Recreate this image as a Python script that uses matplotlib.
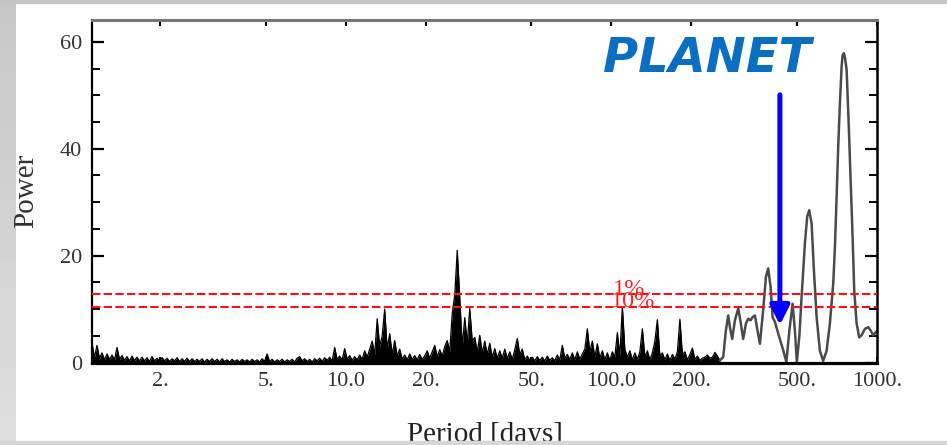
import numpy as np
import matplotlib
matplotlib.use("Agg")
import matplotlib.pyplot as plt
from matplotlib.ticker import FixedLocator, FixedFormatter, MultipleLocator, NullLocator
from matplotlib.patches import Rectangle

plt.rcParams['font.family'] = ['Liberation Serif', 'DejaVu Serif']

# short-period part of the periodogram (dense noise)
noise_power = [
    3.6, 1.0, 3.2, 0.8, 1.8, 0.5, 1.6, 0.6, 1.4, 0.5,
    2.8, 0.6, 1.3, 0.4, 1.1, 0.3, 1.2, 0.4, 1.0, 0.3,
    1.0, 0.3, 0.9, 0.2, 1.1, 0.3, 0.8, 0.2, 0.9, 0.3,
    0.8, 0.2, 0.7, 0.3, 0.9, 0.2, 0.7, 0.2, 0.8, 0.2,
    0.7, 0.2, 0.6, 0.2, 0.7, 0.1, 0.6, 0.2, 0.7, 0.2,
    0.6, 0.1, 0.7, 0.2, 0.5, 0.1, 0.6, 0.2, 0.5, 0.1,
    0.6, 0.2, 0.5, 0.1, 0.6, 0.2, 0.5, 0.1, 0.7, 0.2,
    1.6, 0.2, 0.6, 0.1, 0.5, 0.2, 0.6, 0.1, 0.5, 0.2,
    0.6, 0.1, 0.8, 1.1, 0.3, 0.7, 0.2, 0.6, 0.1, 0.7,
    0.3, 0.8, 0.2, 0.9, 0.4, 1.0, 0.3, 2.8, 0.6, 1.2,
    0.5, 2.6, 0.6, 1.3, 0.4, 1.1, 0.5, 1.4, 0.6, 2.2,
    1.0, 2.5, 4.0, 1.5, 8.2, 3.0, 5.0, 10.0, 2.5, 5.4,
    1.5, 4.1, 1.2, 2.5, 0.6, 1.4, 0.5, 1.6, 0.6, 1.3,
    0.5, 1.5, 0.6, 1.2, 2.2, 0.8, 2.0, 3.2, 1.0, 2.4,
    1.2, 3.0, 4.1, 2.0, 9.2, 12.6, 21.0, 12.2, 3.0, 8.4,
    3.5, 10.1, 4.0, 4.7, 2.0, 5.1, 1.8, 4.0, 1.5, 3.6,
    1.0, 2.6, 0.8, 2.2, 0.8, 2.5, 0.7, 2.0, 0.6, 2.4,
    4.5, 1.5, 2.5, 0.5, 1.2, 0.4, 1.0, 0.3, 1.1, 0.4,
    1.0, 0.3, 1.2, 0.4, 0.9, 0.3, 1.4, 0.5, 3.2, 0.8,
    1.5, 0.6, 1.8, 0.5, 2.0, 0.6, 1.6, 2.5, 6.3, 2.0,
    4.0, 1.0, 3.5, 0.8, 2.2, 0.5, 1.8, 0.4, 2.0, 1.0,
    5.6, 1.2, 10.5, 2.5, 1.0, 2.2, 0.5, 1.8, 0.6, 2.0,
    6.3, 1.0, 2.2, 0.5, 1.8, 4.0, 8.0, 1.2, 1.8, 0.5,
    1.6, 0.4, 1.5, 0.6, 2.0, 8.1, 1.5, 2.0, 0.5, 1.5,
    2.7, 0.6, 1.2, 0.4, 0.8, 1.0, 1.4, 0.8, 1.0, 1.9,
    1.2, 0.4,
]
noise_periods = np.geomspace(1.11, 256.3, len(noise_power))

# long-period part (smooth peaks)
long_periods = [256.3, 263.7, 269.9, 275.4, 279.5, 285.1, 291.9, 300.4, 306.6, 313.6,
                321.1, 327.5, 334.4, 340.3, 347.2, 354.0, 362.4, 372.9, 381.8, 389.4,
                397.7, 404.6, 412.8, 427.3, 442.4, 456.0, 468.0, 481.2, 490.8, 499.3,
                510.3, 520.2, 535.3, 546.1, 555.7, 567.4, 578.8, 592.5, 609.6, 627.3,
                646.1, 664.8, 684.3, 694.4, 704.7, 714.5, 725.1, 735.9, 742.0, 750.6,
                758.0, 768.5, 784.0, 795.7, 809.5, 820.8, 838.0, 857.2, 875.0, 900.4,
                926.5, 946.1, 967.5, 990.4, 1000.0]
long_power = [0.4, 1.0, 6.0, 8.8, 6.6, 4.4, 7.9, 10.1, 7.6, 4.4,
              7.3, 8.2, 7.9, 8.5, 8.8, 6.3, 3.5, 9.8, 16.0, 17.6,
              14.1, 8.5, 7.6, 5.0, 2.5, 0.1, 6.0, 11.0, 6.0, 0.1,
              5.0, 12.3, 22.3, 27.3, 28.5, 26.0, 17.3, 8.5, 2.2, 0.3,
              2.2, 7.3, 14.8, 21.6, 31.0, 40.4, 48.5, 55.4, 57.4, 57.9,
              57.0, 54.8, 43.5, 34.1, 23.5, 13.5, 7.3, 4.7, 5.1, 6.3,
              6.6, 6.0, 5.1, 5.7, 5.9]

fap_levels = [12.75, 10.35]   # 1% and 10% false alarm levels
fap_labels = ['1%', '10%']

x_ticks = [2, 5, 10, 20, 50, 100, 200, 500, 1000]
x_ticklabels = ['2.', '5.', '10.0', '20.', '50.', '100.0', '200.', '500.', '1000.']
y_ticks = [0, 20, 40, 60]

planet_period = 431
planet_from, planet_to = 50.1, 7.0

fig = plt.figure(figsize=(9.47, 4.45), dpi=100)
fig.patch.set_facecolor('white')

# grey frame of the slide
bg = fig.add_axes([0, 0, 16 / 947, 1])
bg.imshow(np.linspace(0.78, 0.87, 100).reshape(-1, 1), cmap='gray', vmin=0, vmax=1,
          aspect='auto', extent=[0, 1, 0, 1], origin='upper')
bg.axis('off')
fig.patches.append(Rectangle((0, 1 - 3 / 445), 1, 3 / 445, transform=fig.transFigure,
                             color='#c4c4c4', zorder=0))
fig.patches.append(Rectangle((0, 0), 1, 4 / 445, transform=fig.transFigure,
                             color='#d6d6d6', zorder=5))

ax = fig.add_axes([92 / 947, 82.5 / 445, 785 / 947, 342.5 / 445])
ax.set_xscale('log')

ax.fill_between(noise_periods, 0, noise_power, color='black', lw=0)
ax.plot(noise_periods, noise_power, color='black', lw=0.9)
ax.plot(long_periods, long_power, color='#4a4a4a', lw=1.8)

for lev in fap_levels:
    ax.axhline(lev, color='#ff1010', lw=1.5, dashes=(4, 1.6), zorder=3)
ax.text(101.0, fap_levels[0] - 0.15, fap_labels[0], color='#ff2020', fontsize=17.5,
        ha='left', va='baseline', zorder=4)
ax.text(100.0, fap_levels[1] + 0.05, fap_labels[1], color='#ff2020', fontsize=17.5,
        ha='left', va='baseline', zorder=4)

ax.annotate('', xy=(planet_period, planet_to), xytext=(planet_period, planet_from),
            arrowprops=dict(arrowstyle='-|>', color='#0000ff', lw=3.6,
                            mutation_scale=29, shrinkA=0, shrinkB=0), zorder=5)
ax.text(0.651, 0.848, 'PLANET', transform=ax.transAxes, color='#0a6fc2',
        fontsize=34.5, fontweight='bold', fontstyle='italic', family='DejaVu Sans',
        ha='left', va='baseline')

ax.set_xlim(1.11, 1000)
ax.set_ylim(0, 64.1)

ax.xaxis.set_major_locator(FixedLocator(x_ticks))
ax.xaxis.set_major_formatter(FixedFormatter(x_ticklabels))
ax.xaxis.set_minor_locator(NullLocator())
ax.yaxis.set_major_locator(FixedLocator(y_ticks))
ax.yaxis.set_minor_locator(MultipleLocator(5))

ax.tick_params(axis='x', which='major', direction='in', top=True, bottom=True,
               length=4, width=1.5, labelsize=16, pad=7, labelcolor='#333333')
ax.tick_params(axis='y', which='major', direction='in', left=True, right=True,
               length=8.5, width=1.6, labelsize=16, pad=7, labelcolor='#333333')
ax.tick_params(axis='y', which='minor', direction='in', left=True, right=True,
               length=5.5, width=1.4)

ax.spines['bottom'].set_linewidth(2.3)
ax.spines['left'].set_linewidth(1.6)
ax.spines['right'].set_linewidth(1.8)
ax.spines['top'].set_linewidth(2.2)
ax.spines['top'].set_color('#777777')

ax.set_xlabel('Period [days]', fontsize=21, labelpad=22, color='#222222')
ax.set_ylabel('Power', fontsize=21, labelpad=15, color='#333333')

fig.savefig('out.png', dpi=100, facecolor=fig.get_facecolor())
